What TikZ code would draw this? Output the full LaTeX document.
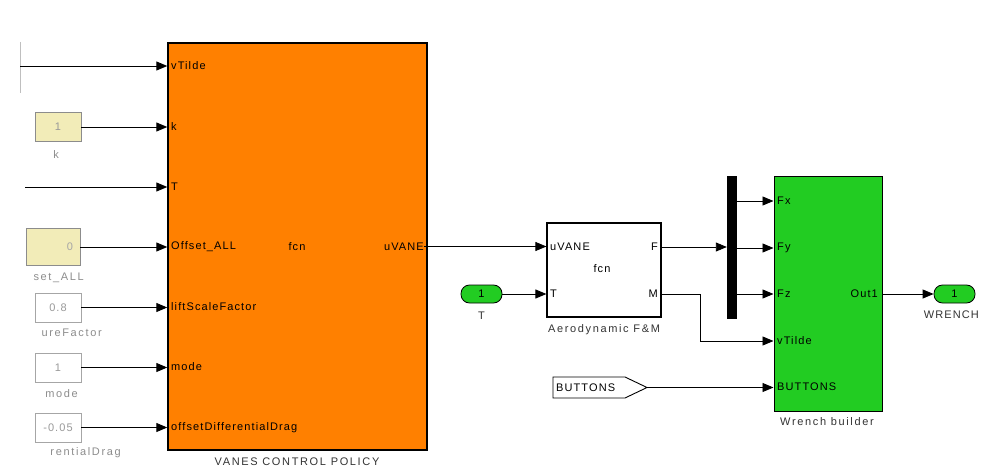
\documentclass[tikz,border=0pt]{standalone}
\usepackage{fontspec}
\setmainfont{Liberation Sans}
\newfontfamily\simfont[LetterSpace=10]{Liberation Sans}
\newfontfamily\capfont[LetterSpace=15]{Liberation Sans}
\usetikzlibrary{arrows.meta}
\definecolor{policyorange}{RGB}{255,128,0}
\definecolor{simgreen}{RGB}{34,204,34}
\definecolor{constyellow}{RGB}{242,236,184}
\begin{document}
\begin{tikzpicture}[x=1pt,y=-1pt]

\tikzset{sig/.style={-{Triangle[length=11pt,width=9pt]}, line width=0.9pt}}
\tikzset{wire/.style={line width=0.9pt}}
\tikzset{portlbl/.style={inner sep=0pt, text=black, font=\simfont\fontsize{11}{12}\selectfont}}
\tikzset{caption/.style={inner sep=0pt, text=black!80, font=\capfont\fontsize{11}{12}\selectfont}}
\tikzset{constbox/.style={draw=black!35, fill=white, line width=0.8pt, minimum width=46pt, minimum height=29pt, inner sep=0pt, text=black!40, font=\simfont\fontsize{11}{12}\selectfont}}
\tikzset{fadelbl/.style={inner sep=0pt, text=black!45, font=\capfont\fontsize{11}{12}\selectfont}}
\tikzset{iobox/.style={draw=black, fill=simgreen, line width=0.8pt, rounded corners=8.5pt, minimum width=41pt, minimum height=18pt, inner sep=0pt, font=\simfont\fontsize{11}{12}\selectfont}}

\useasboundingbox (0,0) rectangle (981,470);

\node[draw=black, line width=1.4pt, fill=policyorange, minimum width=259pt, minimum height=407pt, inner sep=0pt] (policy) at (297.5,246.5) {};
\node[portlbl, anchor=west] (pvtilde) at (171,66) {vTilde};
\node[portlbl, anchor=west] (pk) at (171,127) {k};
\node[portlbl, anchor=west] (pt) at (171,187) {T};
\node[portlbl, anchor=west] (poffset) at (171,247) {Offset\_ALL};
\node[portlbl, anchor=west] (plift) at (171,307) {liftScaleFactor};
\node[portlbl, anchor=west] (pmode) at (171,367) {mode};
\node[portlbl, anchor=west] (pdrag) at (171,428) {offsetDifferentialDrag};
\node[portlbl] (pfcn) at (297,247) {fcn};
\node[portlbl, anchor=east] (puvane) at (424,247) {uVANE};
\node[caption] (policycap) at (297,462) {VANES CONTROL POLICY};

\coordinate (vttop) at (20,42);
\coordinate (vtbot) at (20,93);
\coordinate (vtbranch) at (20,66);
\coordinate (tfree) at (25,187);
\draw[wire, black!25] (vttop) -- (vtbot);
\draw[sig] (vtbranch) -- (vtbranch -| policy.west);
\draw[sig] (tfree) -- (tfree -| policy.west);

\node[constbox, fill=constyellow, draw=black!45] (kval) at (58,127) {1};
\node[fadelbl] (klbl) at (56,155) {k};
\node[constbox, fill=constyellow, draw=black!45, minimum width=54pt, minimum height=37pt] (offsetval) at (53,247) {};
\node[portlbl, text=black!35] (offsetnum) at (70,247) {0};
\node[fadelbl, anchor=east] (offsetlbl) at (84,278) {set\_ALL};
\node[constbox] (liftval) at (58,307.5) {0.8};
\node[fadelbl, anchor=east] (liftlbl) at (102,333) {ureFactor};
\node[constbox] (modeval) at (58,367.5) {1};
\node[fadelbl, anchor=east] (modelbl) at (78,394) {mode};
\node[constbox] (dragval) at (58,427.5) {-0.05};
\node[fadelbl, anchor=east] (draglbl) at (121,453) {rentialDrag};

\draw[sig] (kval.east) -- (kval.east -| policy.west);
\draw[sig] (offsetval.east) -- (offsetval.east -| policy.west);
\draw[sig] (liftval.east) -- (liftval.east -| policy.west);
\draw[sig] (modeval.east) -- (modeval.east -| policy.west);
\draw[sig] (dragval.east) -- (dragval.east -| policy.west);

\node[draw=black, line width=1.2pt, fill=white, minimum width=114pt, minimum height=94pt, inner sep=0pt] (aero) at (604,270) {};
\node[portlbl, anchor=west] (auvane) at (550,247) {uVANE};
\node[portlbl, anchor=west] (at) at (550,294) {T};
\node[portlbl, anchor=east] (af) at (658,247) {F};
\node[portlbl, anchor=east] (am) at (658,294) {M};
\node[portlbl] (afcn) at (602,269) {fcn};
\node[caption] (aerocap) at (604,330) {Aerodynamic F\&M};

\node[iobox] (tin) at (481.5,294) {1};
\node[caption] (tinlbl) at (481.5,316) {T};

\draw[sig] (puvane.east |- policy.east) -- (aero.west |- policy.east);
\draw[sig] (tin.east) -- (tin.east -| aero.west);

\node[draw=black, fill=black, minimum width=9pt, minimum height=142pt, inner sep=0pt] (mux) at (731.5,247) {};

\node[draw=black, line width=1pt, fill=simgreen, minimum width=108pt, minimum height=234pt, inner sep=0pt] (wrench) at (828,294) {};
\node[portlbl, anchor=west] (wfx) at (777,201) {Fx};
\node[portlbl, anchor=west] (wfy) at (777,248) {Fy};
\node[portlbl, anchor=west] (wfz) at (777,294) {Fz};
\node[portlbl, anchor=west] (wvtilde) at (777,341) {vTilde};
\node[portlbl, anchor=west] (wbuttons) at (777,387) {BUTTONS};
\node[portlbl, anchor=east] (wout) at (878,294) {Out1};
\node[caption] (wrenchcap) at (827,422) {Wrench builder};

\draw[sig] (aero.east |- af) -- (mux.west |- af);
\draw[sig] (mux.east |- wfx) -- (wrench.west |- wfx);
\draw[sig] (mux.east |- wfy) -- (wrench.west |- wfy);
\draw[sig] (mux.east |- wfz) -- (wrench.west |- wfz);
\draw[sig] (aero.east |- am) -- (700,294) |- (wrench.west |- wvtilde);

\draw[line width=0.9pt, fill=white] (553,377) -- (625,377) -- (647,387.5) -- (625,398) -- (553,398) -- cycle;
\node[portlbl, anchor=west] (btntag) at (556,387.5) {BUTTONS};
\coordinate (btntip) at (647,387.5);
\draw[sig] (btntip) -- (wrench.west |- btntip);

\node[iobox] (wrenchout) at (954.5,294) {1};
\node[caption, font=\simfont\fontsize{11}{12}\selectfont, anchor=east] (wrenchlbl) at (979,315) {WRENCH};
\draw[sig] (wrench.east |- wout) -- (wrenchout.west);

\end{tikzpicture}
\end{document}
